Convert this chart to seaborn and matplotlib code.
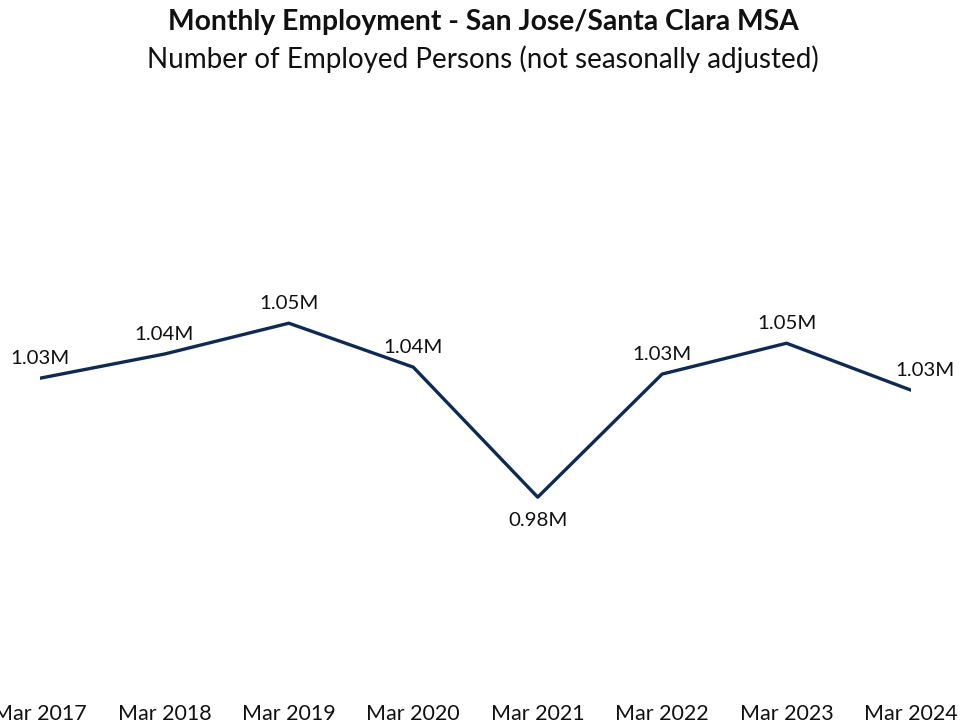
import pandas as pd
import matplotlib.pyplot as plt
import seaborn as sns

periods = ['Mar 2017', 'Mar 2018', 'Mar 2019', 'Mar 2020',
           'Mar 2021', 'Mar 2022', 'Mar 2023', 'Mar 2024']
employed = [1.0315, 1.0420, 1.0554, 1.0363, 0.9798, 1.0333, 1.0467, 1.0263]  # millions
labels = ['1.03M', '1.04M', '1.05M', '1.04M', '0.98M', '1.03M', '1.05M', '1.03M']

LINE_COLOR = '#0c2a57'


def plot_employment():
    data = pd.DataFrame({'period': periods, 'employed': employed, 'label': labels})
    data['pos'] = range(len(data))

    sns.set_style('white')
    plt.rcParams['font.family'] = ['Lato', 'DejaVu Sans']

    fig = plt.figure(figsize=(9.66, 7.24), dpi=100)
    ax = fig.add_axes([40 / 966, 34 / 724, 871 / 966, 590 / 724])
    sns.lineplot(data=data, x='pos', y='employed', color=LINE_COLOR,
                 linewidth=2.4, ax=ax)

    ax.set_xlim(0, len(data) - 1)
    ax.set_ylim(0.896, 1.1524)
    ax.set_xticks(data['pos'])
    # first label is clipped at the left edge, as in the original
    ax.set_xticklabels(data['period'], fontsize=15.5, color='#111111')
    ax.tick_params(axis='x', length=0, pad=10)
    ax.set_yticks([])
    ax.set_xlabel('')
    ax.set_ylabel('')
    sns.despine(ax=ax, left=True, bottom=True)

    for i, row in data.iterrows():
        dx = 10 if i == len(data) - 1 else 0
        if row['label'] == '0.98M':
            ax.annotate(row['label'], (row['pos'], row['employed']),
                        xytext=(dx, -11), textcoords='offset points',
                        ha='center', va='top', fontsize=14.7, color='#111111')
        else:
            ax.annotate(row['label'], (row['pos'], row['employed']),
                        xytext=(dx, 8), textcoords='offset points',
                        ha='center', va='bottom', fontsize=14.7, color='#111111',
                        annotation_clip=False)

    fig.text(0.5, 0.970, 'Monthly Employment - San Jose/Santa Clara MSA',
             ha='center', va='center', fontsize=20.3, fontweight='bold', color='#111111')
    fig.text(0.5, 0.918, 'Number of Employed Persons (not seasonally adjusted)',
             ha='center', va='center', fontsize=20, color='#111111')

    fig.savefig('out.png', dpi=100)


plot_employment()
